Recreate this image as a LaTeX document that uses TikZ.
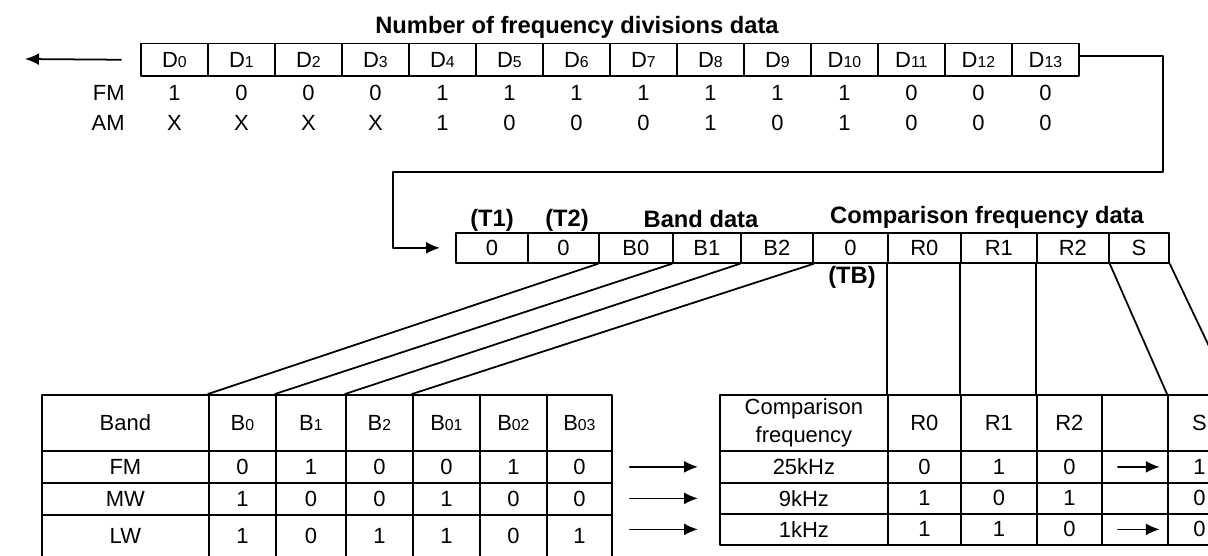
\documentclass[tikz,border=0pt]{standalone}
\usepackage{fontspec}
\setmainfont{Liberation Sans}
\usetikzlibrary{arrows.meta}

\newcommand{\lsub}[1]{{\fontsize{9}{9}\selectfont #1}}
% one row of table cells: name, x list, top, height (cm), texts
\newcommand{\bitrow}[5]{%
  \foreach \t [count=\c] in {#5} {
    \pgfmathsetmacro\xa{#2[\c-1]}
    \pgfmathsetmacro\xb{#2[\c]}
    \node[box,minimum width={(\xb-\xa)*0.02cm},minimum height=#4cm] (#1\c) at (\xa,#3) {\t};
  }}

\begin{document}
\begin{tikzpicture}[x=0.02cm,y=-0.02cm,line cap=round,line join=round,
    every node/.style={font=\fontsize{12.5}{16}\selectfont,inner sep=0pt},
    box/.style={draw,line width=1pt,anchor=north west,align=center},
    lbl/.style={font=\fontsize{13.5}{15}\selectfont\bfseries,anchor=base},
    wire/.style={line width=1pt},
    arr/.style={line width=1pt,-{Latex[length=2.8mm,width=2.4mm]}}]
\useasboundingbox (0,0) rectangle (1208,555);
\clip (0,0) rectangle (1208,555);

% number of frequency divisions data
\node[lbl] (title) at (577,33) {Number of frequency divisions data};
\foreach \i in {0,...,13}
  \node[box,minimum width=1.34cm,minimum height=0.66cm] (d\i) at ({140+67*\i},42.5) {D\lsub{\i}};
\node[anchor=east] (fm) at (125,92.5) {FM};
\node[anchor=east] (am) at (125,122.5) {AM};
\foreach \v [count=\i from 0] in {1,0,0,0,1,1,1,1,1,1,1,0,0,0}
  \node (fmv\i) at (d\i |- fm) {\v};
\foreach \v [count=\i from 0] in {X,X,X,X,1,0,0,0,1,0,1,0,0,0}
  \node (amv\i) at (d\i |- am) {\v};

\coordinate (out) at (25,59);
\draw[arr,shorten <=0.38cm] (d0.west) -- (out);

% band / comparison frequency register
\foreach \a/\b/\n/\txt in {455/527/t1/0, 527/598/t2/0, 598/672/b0/B0, 672/740/b1/B1,
    740/812/b2/B2, 812/887/tb/0, 887/960/r0/R0, 960/1036/r1/R1, 1036/1108/r2/R2, 1108/1168/s/S}
  \node[box,minimum width={(\b-\a)*0.02cm},minimum height=0.6cm] (\n) at (\a,232) {\txt};
\node[lbl] (t1l) at (492,226) {(T1)};
\node[lbl] (t2l) at (567,226) {(T2)};
\node[lbl] (bandl) at (701,227) {Band data};
\node[lbl] (compl) at (987,223) {Comparison frequency data};
\node[lbl,anchor=center] (tbl) at (852,277) {(TB)};

\draw[arr] ([yshift=0.08cm]d13.east) -| (1163,172) -- (393,172) |- ([xshift=-0.3cm]t1.west);

% band table
\def\bx{{41,208,275,345,412,479,546,611}}
\bitrow{lh}{\bx}{394}{1.12}{Band,B\lsub{0},B\lsub{1},B\lsub{2},B\lsub{01},B\lsub{02},B\lsub{03}}
\bitrow{lfm}{\bx}{450}{0.64}{FM,0,1,0,0,1,0}
\bitrow{lmw}{\bx}{482}{0.64}{MW,1,0,0,1,0,0}
\bitrow{llw}{\bx}{514}{0.86}{LW,1,0,1,1,0,1}

% comparison frequency table
\def\rx{{719,887,960,1036,1101,1167,1230}}
\bitrow{rh}{\rx}{394}{1.12}{{Comparison\\frequency},R0,R1,R2,{},S}
\bitrow{ra}{\rx}{450}{0.64}{25kHz,0,1,0,{},1}
\bitrow{rb}{\rx}{482}{0.62}{9kHz,1,0,1,{},0}
\bitrow{rc}{\rx}{513}{0.62}{1kHz,1,1,0,{},0}

% register bits to the tables
\draw[wire] (b0.south west) -- (lh2.north west);
\draw[wire] (b1.south west) -- (lh3.north west);
\draw[wire] (b2.south west) -- (lh4.north west);
\draw[wire] (b2.south east) -- (lh5.north west);
\draw[wire] (r0.south west) -- (rh2.north west);
\draw[wire] (r1.south west) -- (rh3.north west);
\draw[wire] (r2.south west) -- (rh4.north west);
\draw[wire] (r2.south east) -- (rh6.north west);
\draw[wire] (s.south east) -- (rh6.north east);

% band -> comparison frequency
\draw[arr,shorten <=0.34cm,shorten >=0.42cm] (lfm7.east |- ra1.west) -- (ra1.west);
\draw[arr,shorten <=0.34cm,shorten >=0.42cm] (lmw7.east |- rb1.west) -- (rb1.west);
\draw[arr,shorten <=0.34cm,shorten >=0.42cm] (llw7.east |- rc1.west) -- (rc1.west);
\draw[arr,shorten <=0.34cm,shorten >=0.18cm] (ra5.west) -- (ra5.east);
\draw[arr,shorten <=0.34cm,shorten >=0.18cm] (rc5.west) -- (rc5.east);
\end{tikzpicture}
\end{document}
